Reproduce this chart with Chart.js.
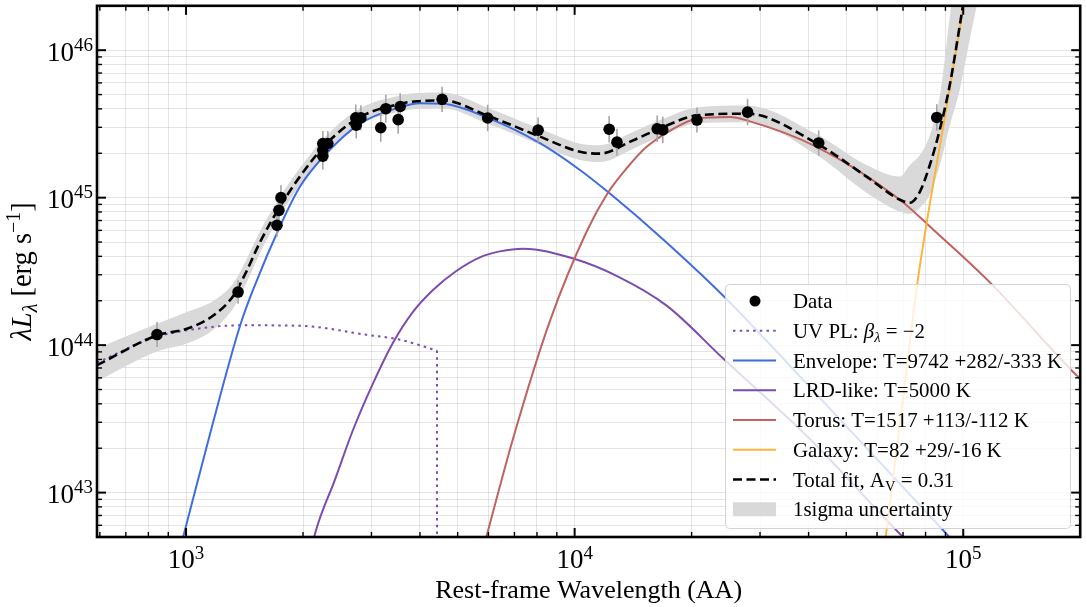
<!DOCTYPE html>
<html>
<head>
<meta charset="utf-8">
<script src="https://cdn.jsdelivr.net/npm/chart.js@4.4.1/dist/chart.umd.min.js"></script>
<style>
  html, body { margin: 0; padding: 0; background: #fff; }
</style>
</head>
<body>
<canvas id="sed" width="1086" height="607"></canvas>
<script>
// photometry, rest-frame wavelength (AA) and lambda*L_lambda (erg/s)
const dataWl = [842, 1361, 1714, 1734, 1755, 2249, 2249, 2249, 2317, 2734, 2741, 2818, 3170, 3267, 3515, 3557, 4560, 5973, 8054, 12270, 12850, 16310, 16860, 20640, 27860, 42470, 85500];
const dataLum = [1.18e44, 2.29e44, 6.5e44, 8.2e44, 1.00e45, 1.91e45, 2.10e45, 2.33e45, 2.33e45, 3.48e45, 3.10e45, 3.48e45, 2.98e45, 4.01e45, 3.38e45, 4.15e45, 4.64e45, 3.47e45, 2.87e45, 2.91e45, 2.38e45, 2.93e45, 2.88e45, 3.36e45, 3.80e45, 2.35e45, 3.50e45];
const dataErrDex = [0.085, 0.08, 0.08, 0.09, 0.085, 0.09, 0.085, 0.085, 0.085, 0.09, 0.09, 0.085, 0.095, 0.095, 0.095, 0.09, 0.085, 0.09, 0.085, 0.09, 0.09, 0.09, 0.09, 0.085, 0.09, 0.085, 0.09];

// total fit and 1 sigma band (same wavelength grid)
const fitWl = [590, 841, 1005, 1175, 1324, 1419, 1549, 1746, 1963, 2301, 2805, 3556, 3926, 4592, 5943, 7980, 10330, 11610, 14160, 16900, 20610, 27730, 41980, 56360, 68700, 72900, 77330, 82040, 87080, 92380, 98010, 104000, 110300];
const fitLum = [7.31e43, 1.164e44, 1.291e44, 1.587e44, 2.163e44, 3.028e44, 4.973e44, 8.727e44, 1.389e45, 2.331e45, 3.519e45, 4.331e45, 4.509e45, 4.558e45, 3.613e45, 2.651e45, 2.046e45, 1.990e45, 2.453e45, 3.014e45, 3.613e45, 3.709e45, 2.331e45, 1.389e45, 9.68e44, 9.24e44, 1.096e45, 1.665e45, 2.909e45, 5.843e45, 1.480e46, 3.99e46, 1.0e47];
const bandHi = [9.47e43, 1.396e44, 1.680e44, 1.993e44, 2.634e44, 3.648e44, 5.896e44, 1.014e45, 1.589e45, 2.651e45, 4.027e45, 4.928e45, 5.122e45, 5.162e45, 4.090e45, 3.000e45, 2.324e45, 2.270e45, 2.798e45, 3.422e45, 4.090e45, 4.220e45, 2.692e45, 1.665e45, 1.389e45, 1.665e45, 1.944e45, 2.651e45, 4.928e45, 1.701e46, 5.44e46, 1.88e47, 5e47];
const bandLo = [5.68e43, 9.04e43, 1.024e44, 1.272e44, 1.788e44, 2.514e44, 4.194e44, 7.554e44, 1.221e45, 2.069e45, 3.144e45, 3.844e45, 3.996e45, 4.027e45, 3.192e45, 2.341e45, 1.799e45, 1.744e45, 2.150e45, 2.651e45, 3.192e45, 3.243e45, 1.944e45, 1.079e45, 8.04e44, 7.79e44, 8.55e44, 1.046e45, 1.665e45, 3.095e45, 5.405e45, 1.19e46, 2.51e46];

// model components
const uvWl = [590, 842, 1067, 1377, 1965, 2905, 3553, 4424];
const uvLum = [7.62e43, 1.141e44, 1.291e44, 1.363e44, 1.353e44, 1.177e44, 1.089e44, 9.18e43];
const uvCutWl = [4424, 4424];
const uvCutLum = [9.18e43, 1e42];
const envWl = [965, 1167, 1377, 1490, 1745, 1965, 2255, 2803, 3553, 3999, 4592, 5937, 8141, 10320, 12570, 16900, 24120, 37980, 90570, 110300];
const envLum = [4.14e42, 2.83e43, 1.352e44, 2.399e44, 6.40e44, 1.190e45, 1.894e45, 3.177e45, 4.109e45, 4.371e45, 4.331e45, 3.503e45, 2.342e45, 1.541e45, 1.022e45, 5.21e44, 2.163e44, 6.14e43, 5.25e42, 2.99e42];
const lrdWl = [2084, 2147, 2417, 2689, 3028, 3409, 3837, 4320, 4950, 5706, 6424, 7375, 9918, 12820, 17250, 24120, 40550, 68700, 82040];
const lrdLum = [3.66e42, 5.25e42, 1.225e43, 2.658e43, 5.51e43, 1.039e44, 1.680e44, 2.363e44, 3.172e44, 3.94e44, 4.324e44, 4.509e44, 3.863e44, 2.949e44, 1.853e44, 8.11e43, 2.276e43, 5.25e42, 3.33e42];
const torWl = [5876, 6950, 8640, 10740, 12180, 13630, 15320, 17590, 20600, 25090, 27700, 41950, 68700, 83650, 117100, 188000, 205600];
const torLum = [4.61e42, 2.349e43, 1.462e44, 5.896e44, 1.079e45, 1.589e45, 2.211e45, 2.842e45, 3.434e45, 3.519e45, 3.344e45, 2.211e45, 9.68e44, 6.08e44, 2.663e44, 6.95e43, 5.51e43];
const galWl = [62480, 69500, 76410, 90570, 100000, 107100];
const galLum = [3.95e42, 3.74e43, 2.76e44, 4.109e45, 1.935e46, 6.35e46];

// axes
const xRange = [590, 2e5];
const yRange = [5e42, 2e46];
const xMajor = [1e3, 1e4, 1e5];
const yMajor = [1e43, 1e44, 1e45, 1e46];
const minorMantissa = [2, 3, 4, 5, 6, 7, 8, 9];

const COL = {
  env: '#3f6de0',
  lrd: '#7c4caf',
  tor: '#c0625e',
  gal: '#fdb43a',
  band: '#d9d9d9',
  err: '#a6a6a6'
};
const FONT = '"Liberation Serif", "DejaVu Serif", serif';

const pts = (xs, ys) => xs.map((x, i) => ({ x, y: ys[i] }));

const logTicks = (min, max) => {
  const out = [];
  for (let e = Math.floor(Math.log10(min)); e <= Math.ceil(Math.log10(max)); e++) {
    [1, ...minorMantissa].forEach(m => {
      const v = m * Math.pow(10, e);
      if (v >= min && v <= max) out.push({ value: v });
    });
  }
  return out;
};
const isMajor = v => Math.abs(Math.log10(v) - Math.round(Math.log10(v))) < 1e-9;

const setFont = (ctx, size, italic) => {
  ctx.font = (italic ? 'italic ' : '') + size + 'px ' + FONT;
};

// parts: strings or {t, it, sub, sup}
const partList = parts => parts.map(p => typeof p === 'string' ? { t: p } : p);
const richWidth = (ctx, parts, size) => {
  let w = 0;
  partList(parts).forEach(p => {
    setFont(ctx, (p.sub || p.sup) ? size * 0.7 : size, p.it);
    w += ctx.measureText(p.t).width;
  });
  return w;
};
const drawRich = (ctx, parts, x, y, size) => {
  let cx = x;
  partList(parts).forEach(p => {
    const s = (p.sub || p.sup) ? size * 0.7 : size;
    setFont(ctx, s, p.it);
    const dy = p.sub ? size * 0.22 : p.sup ? -size * 0.38 : 0;
    ctx.fillText(p.t, cx, y + dy);
    cx += ctx.measureText(p.t).width;
  });
};

const legendRows = [
  { kind: 'marker', parts: ['Data'] },
  { kind: 'line', color: COL.lrd, dash: [2.5, 4.2], parts: ['UV PL: ', { t: 'β', it: true }, { t: 'λ', it: true, sub: true }, ' = −2'] },
  { kind: 'line', color: COL.env, parts: ['Envelope: T=9742 +282/-333 K'] },
  { kind: 'line', color: COL.lrd, parts: ['LRD-like: T=5000 K'] },
  { kind: 'line', color: COL.tor, parts: ['Torus: T=1517 +113/-112 K'] },
  { kind: 'line', color: COL.gal, parts: ['Galaxy: T=82 +29/-16 K'] },
  { kind: 'line', color: '#000', dash: [9, 4.5], width: 2.6, parts: ['Total fit, A', { t: 'V', sub: true }, ' = 0.31'] },
  { kind: 'patch', parts: ['1sigma uncertainty'] }
];

const errorBars = {
  id: 'errorBars',
  beforeDatasetDraw(chart, args) {
    if (args.index !== 0) return;
    const { ctx, scales: { x, y } } = chart;
    ctx.save();
    ctx.strokeStyle = COL.err;
    ctx.lineWidth = 1.6;
    dataWl.forEach((wl, i) => {
      const f = Math.pow(10, dataErrDex[i]);
      const px = x.getPixelForValue(wl);
      ctx.beginPath();
      ctx.moveTo(px, y.getPixelForValue(dataLum[i] * f));
      ctx.lineTo(px, y.getPixelForValue(dataLum[i] / f));
      ctx.stroke();
    });
    ctx.restore();
  }
};

const frame = {
  id: 'frame',
  afterDatasetsDraw(chart) {
    const { ctx, chartArea: a, scales: { x, y } } = chart;
    ctx.save();
    ctx.strokeStyle = '#000';
    const seg = (x1, y1, x2, y2) => { ctx.beginPath(); ctx.moveTo(x1, y1); ctx.lineTo(x2, y2); ctx.stroke(); };
    x.ticks.forEach(t => {
      const px = x.getPixelForValue(t.value);
      const maj = isMajor(t.value);
      const len = maj ? 9 : 5;
      ctx.lineWidth = maj ? 2 : 1.4;
      seg(px, a.bottom, px, a.bottom - len);
      seg(px, a.top, px, a.top + len);
    });
    y.ticks.forEach(t => {
      const py = y.getPixelForValue(t.value);
      const maj = isMajor(t.value);
      const len = maj ? 9 : 5;
      ctx.lineWidth = maj ? 2 : 1.4;
      seg(a.left, py, a.left + len, py);
      seg(a.right, py, a.right - len, py);
    });
    ctx.lineWidth = 2.6;
    ctx.strokeRect(a.left, a.top, a.right - a.left, a.bottom - a.top);
    ctx.restore();
  },
  afterDraw(chart) {
    const { ctx, chartArea: a, scales: { x, y } } = chart;
    ctx.save();
    ctx.fillStyle = '#000';
    ctx.textBaseline = 'alphabetic';
    ctx.textAlign = 'left';

    // tick labels 10^n
    yMajor.forEach(v => {
      const py = y.getPixelForValue(v);
      const exp = String(Math.round(Math.log10(v)));
      setFont(ctx, 27); const w1 = ctx.measureText('10').width;
      setFont(ctx, 19); const w2 = ctx.measureText(exp).width;
      const x0 = a.left - 4 - w1 - w2;
      setFont(ctx, 27); ctx.fillText('10', x0, py + 10.5);
      setFont(ctx, 19); ctx.fillText(exp, x0 + w1, py + 0.5);
    });
    xMajor.forEach(v => {
      const px = x.getPixelForValue(v);
      const exp = String(Math.round(Math.log10(v)));
      setFont(ctx, 27); const w1 = ctx.measureText('10').width;
      setFont(ctx, 19); const w2 = ctx.measureText(exp).width;
      const x0 = px - (w1 + w2) / 2;
      setFont(ctx, 27); ctx.fillText('10', x0, 568);
      setFont(ctx, 19); ctx.fillText(exp, x0 + w1, 559);
    });

    // axis titles
    setFont(ctx, 26);
    ctx.textAlign = 'center';
    ctx.fillText('Rest-frame Wavelength (AA)', (a.left + a.right) / 2, 598);
    ctx.textAlign = 'left';
    const yTitle = [{ t: 'λ', it: true }, { t: 'L', it: true }, { t: 'λ', it: true, sub: true }, ' [erg s', { t: '−1', sup: true }, ']'];
    const tw = richWidth(ctx, yTitle, 28.5);
    ctx.save();
    ctx.translate(31, (a.top + a.bottom) / 2);
    ctx.rotate(-Math.PI / 2);
    drawRich(ctx, yTitle, -tw / 2, 0, 28.5);
    ctx.restore();

    // legend
    const box = { x: 725, y: 284, w: 345, h: 244 };
    ctx.fillStyle = 'rgba(255,255,255,0.8)';
    ctx.strokeStyle = '#d4d4d4';
    ctx.lineWidth = 1;
    ctx.beginPath();
    ctx.roundRect(box.x + 0.5, box.y + 0.5, box.w, box.h, 4);
    ctx.fill();
    ctx.stroke();
    legendRows.forEach((r, i) => {
      const cy = 301 + i * 29.75;
      ctx.save();
      if (r.kind === 'marker') {
        ctx.fillStyle = '#000';
        ctx.beginPath();
        ctx.arc(755, cy, 5.5, 0, Math.PI * 2);
        ctx.fill();
      } else if (r.kind === 'patch') {
        ctx.fillStyle = COL.band;
        ctx.fillRect(733, cy - 7, 43, 14);
      } else {
        ctx.strokeStyle = r.color;
        ctx.lineWidth = r.width || 2;
        ctx.setLineDash(r.dash || []);
        ctx.beginPath();
        ctx.moveTo(733, cy);
        ctx.lineTo(776, cy);
        ctx.stroke();
      }
      ctx.restore();
      ctx.fillStyle = '#000';
      drawRich(ctx, r.parts, 793, cy + 7, 20.9);
    });
    ctx.restore();
  }
};

const lineSet = (label, xs, ys, color, extra) => Object.assign({
  label,
  data: pts(xs, ys),
  borderColor: color,
  borderWidth: 2,
  pointRadius: 0,
  cubicInterpolationMode: 'monotone',
  fill: false,
  clip: 0
}, extra || {});

new Chart(document.getElementById('sed'), {
  type: 'line',
  data: {
    datasets: [
      {
        label: 'Data',
        data: pts(dataWl, dataLum),
        showLine: false,
        pointRadius: 5.8,
        pointBackgroundColor: '#000',
        pointBorderWidth: 0
      },
      lineSet('Total fit', fitWl, fitLum, '#000', { borderWidth: 2.6, borderDash: [9, 4.5] }),
      lineSet('Galaxy', galWl, galLum, COL.gal),
      lineSet('Torus', torWl, torLum, COL.tor),
      lineSet('LRD-like', lrdWl, lrdLum, COL.lrd),
      lineSet('Envelope', envWl, envLum, COL.env),
      lineSet('UV PL', uvWl, uvLum, COL.lrd, { borderDash: [2.5, 4.2] }),
      lineSet('UV PL cut', uvCutWl, uvCutLum, COL.lrd, { borderDash: [2.5, 4.2], cubicInterpolationMode: 'default', tension: 0 }),
      lineSet('band hi', fitWl, bandHi, 'rgba(0,0,0,0)', { borderWidth: 0, fill: '+1', backgroundColor: COL.band }),
      lineSet('band lo', fitWl, bandLo, 'rgba(0,0,0,0)', { borderWidth: 0 })
    ]
  },
  options: {
    responsive: false,
    animation: false,
    devicePixelRatio: 1,
    layout: { padding: { top: 4, right: 5, left: 0, bottom: 0 } },
    plugins: {
      legend: { display: false },
      tooltip: { enabled: false }
    },
    scales: {
      x: {
        type: 'logarithmic',
        min: xRange[0],
        max: xRange[1],
        ticks: { display: false },
        grid: { color: 'rgba(0,0,0,0.1)', drawTicks: false },
        border: { display: false },
        afterBuildTicks: s => { s.ticks = logTicks(xRange[0], xRange[1]); },
        afterFit: s => { s.height = 70; }
      },
      y: {
        type: 'logarithmic',
        min: yRange[0],
        max: yRange[1],
        ticks: { display: false },
        grid: { color: 'rgba(0,0,0,0.1)', drawTicks: false },
        border: { display: false },
        afterBuildTicks: s => { s.ticks = logTicks(yRange[0], yRange[1]); },
        afterFit: s => { s.width = 97; }
      }
    }
  },
  plugins: [errorBars, frame]
});
</script>
</body>
</html>
